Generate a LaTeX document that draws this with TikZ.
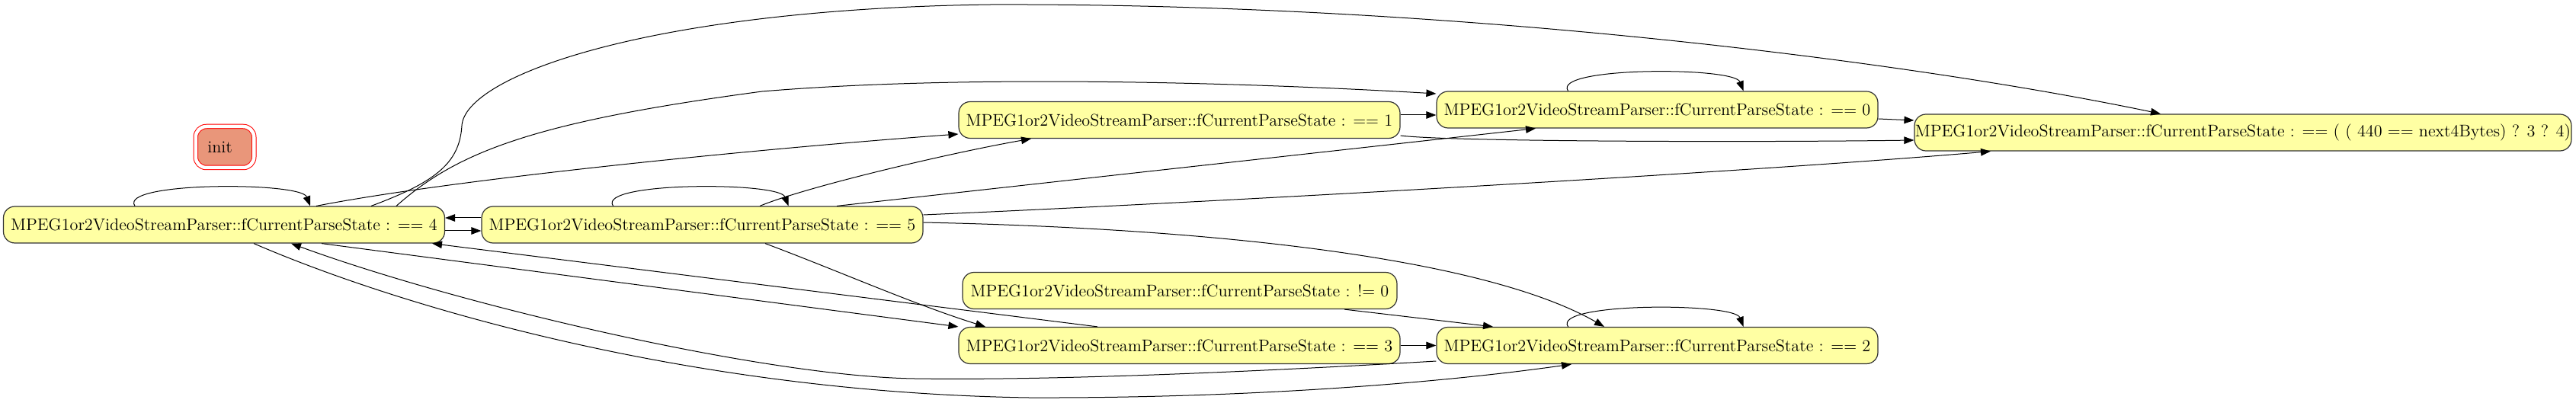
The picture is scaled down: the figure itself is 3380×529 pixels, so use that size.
\documentclass[tikz,border=0pt]{standalone}
\usepackage{tikz}
\usepackage{xcolor}
\usetikzlibrary{arrows.meta,calc}
\definecolor{stfill}{HTML}{FFFFA3}
\definecolor{stline}{HTML}{333333}
\definecolor{initfill}{HTML}{E9967A}

\begin{document}
\begin{tikzpicture}[
  x=0.5pt, y=-0.5pt,
  font=\fontsize{11.1}{13}\selectfont,
  state/.style={draw=stline, line width=0.6pt, fill=stfill, rounded corners=7.5pt,
    minimum width=289.5pt, minimum height=24pt, inner sep=0pt},
  initst/.style={draw=red, line width=0.5pt, double=white, double distance=2.25pt,
    fill=initfill, rounded corners=7pt, minimum height=27pt,
    text width=22.75pt, align=left, inner xsep=7.75pt, inner ysep=0pt},
  edge/.style={line width=0.5pt, -{Triangle[length=6.5pt,width=4.8pt]}},
]
\useasboundingbox (0,0) rectangle (3380,529);

% ---------- states ----------
\node[initst] (init) at (295,193) {init};

% name, x, y, condition
\foreach \nm/\x/\y/\cond in {
   s4/294/295/{== 4},
   s5/921.5/295/{== 5},
   s1/1547.5/157.5/{== 1},
   s3/1547.5/453.5/{== 3},
   s0/2174.5/144/{== 0},
   s2/2174.5/453.5/{== 2}}
{
  \node[state] (\nm) at (\x,\y) {MPEG1or2VideoStreamParser::fCurrentParseState : \cond};
}
\node[state, minimum width=285pt] (sn) at (1548,381.5)
  {MPEG1or2VideoStreamParser::fCurrentParseState : != 0};
\node[state, minimum width=431pt] (sx) at (2943,174)
  {MPEG1or2VideoStreamParser::fCurrentParseState : == ( ( 440 == next4Bytes) ? 3 ? 4)};

% ---------- self loops ----------
\foreach \n in {s4,s5,s0,s2}
  \draw[edge] ($(\n.north)+(-117,0)$) .. controls +(-22,-32) and +(-12,-32) .. ($(\n.north)+(113,0)$);

% ---------- short hops ----------
\draw[edge] ($(s4.east)+(0,8)$) -- ($(s5.west)+(0,8)$);
\draw[edge] ($(s5.west)+(0,-9)$) -- ($(s4.east)+(0,-9)$);
\draw[edge] ($(s1.east)+(0,-6.5)$) -- ($(s0.west)+(0,7)$);
\draw[edge] ($(s0.east)+(0,12)$) -- ($(sx.west)+(0,-16)$);
\draw[edge] (s3.east) -- (s2.west);
\draw[edge] ($(sn.south)+(216,0)$) -- ($(s2.north)+(-215.5,0)$);

% ---------- from == 4 ----------
\draw[edge] ($(s4.north)+(121,0)$) .. controls +(185,-36) and +(-258,19) .. ($(s1.west)+(0,18.5)$);
\draw[edge] ($(s4.north)+(226,0)$) .. controls +(80,-71) and +(-300,40) .. (1000,120)
  .. controls +(300,-25) and +(-185,-11) .. ($(s0.west)+(0,-21)$);
\draw[edge] ($(s4.north)+(193,0)$) .. controls +(83,-31) and +(-3,50) .. (606,165)
  .. controls +(4,-65) and +(-450,6) .. (1300,6)
  .. controls +(600,-2) and +(-335,-70) .. ($(sx.north)+(-108,0)$);
\draw[edge] ($(s4.south)+(128,0)$) -- (s3.north west);
\draw[edge] ($(s4.south)+(39,0)$) .. controls +(187,81) and +(-450,-7) .. (1350,522)
  .. controls +(300,1) and +(-162,23) .. ($(s2.south)+(-112.5,0)$);

% ---------- from == 5 ----------
\draw[edge] ($(s5.north)+(75.5,0)$) .. controls +(63,-26) and +(-103,18) .. ($(s1.south)+(-194.5,0)$);
\draw[edge] ($(s5.north)+(176.5,0)$) -- ($(s0.south)+(-159.5,0)$);
\draw[edge] ($(s5.east)+(0,-13)$) .. controls +(389,-17) and +(-312,27) .. ($(sx.south)+(-331,0)$);
\draw[edge] ($(s5.east)+(0,-3)$) .. controls +(389,8) and +(-155,-89) .. ($(s2.north)+(-69.5,0)$);
\draw[edge] ($(s5.south)+(82.5,0)$) .. controls +(96,36) and +(-93,-29) .. ($(s3.north)+(-254.5,0)$);

% ---------- the rest ----------
\draw[edge] ($(s1.east)+(0,20.5)$) .. controls +(63,8) and +(-212,3) .. ($(sx.west)+(0,10)$);
\draw[edge] ($(s3.north)+(-107.5,0)$) -- ($(s4.south)+(273,0)$);
\draw[edge] ($(s2.west)+(0,20.5)$) .. controls +(-185,11) and +(200,3) .. (1200,497)
  .. controls +(-200,-3) and +(218,80) .. ($(s4.south)+(88,0)$);

\end{tikzpicture}
\end{document}
